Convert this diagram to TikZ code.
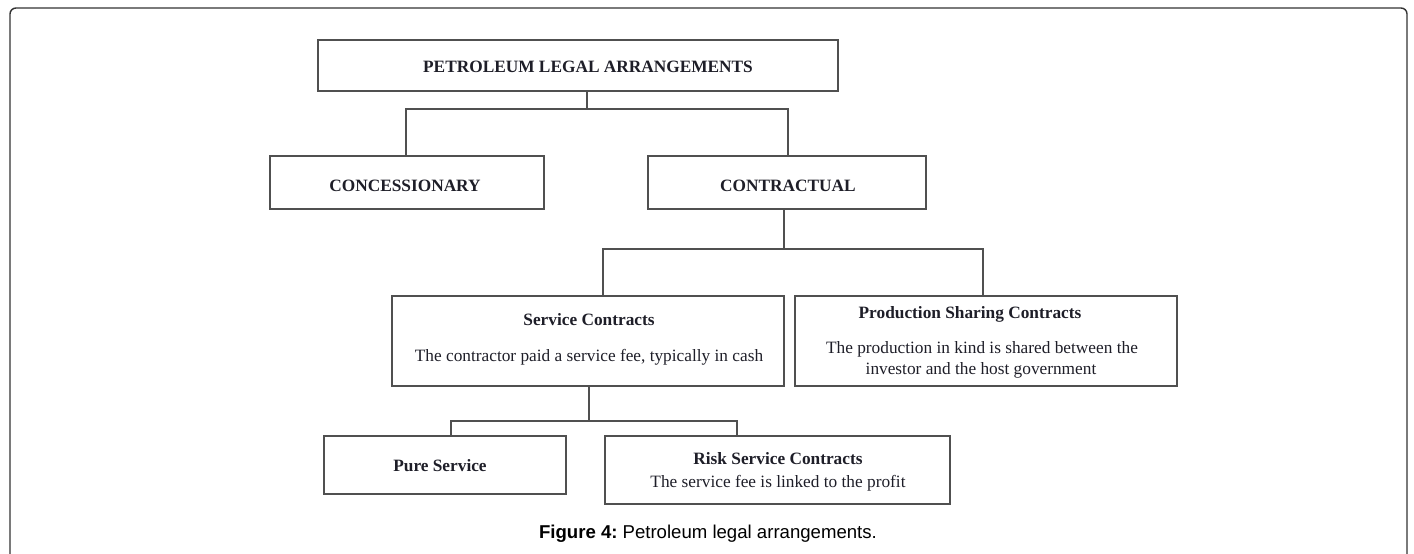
\documentclass[tikz,border=0pt]{standalone}
\usepackage{fontspec}
\setmainfont{Liberation Serif}
\newfontfamily\capfont{Liberation Sans}
\definecolor{linegray}{RGB}{80,80,80}
\definecolor{framegray}{RGB}{51,51,51}
\definecolor{txt}{RGB}{30,30,40}
\tikzset{
  box/.style={draw=linegray, line width=1.5pt, inner sep=0pt, outer sep=0pt, rectangle, anchor=north west},
  conn/.style={draw=linegray, line width=1.5pt},
  lbl/.style={anchor=base, inner sep=0pt, text=txt, font=\fontsize{17.3}{21}\selectfont},
  blbl/.style={lbl, font=\fontsize{17.3}{21}\selectfont\bfseries},
}
\begin{document}
\begin{tikzpicture}[x=1pt,y=-1pt]
\useasboundingbox (0,0) rectangle (1414,554);
% outer frame
\draw[framegray, line width=1.4pt, rounded corners=6pt] (10,560) -- (10,8) -- (1407,8) -- (1407,560);
% boxes
\node[box, minimum width=520, minimum height=51] (top) at (318,40) {};
\node[box, minimum width=274, minimum height=53] (conc) at (270,156) {};
\node[box, minimum width=278, minimum height=53] (contr) at (648,156) {};
\node[box, minimum width=392, minimum height=90] (serv) at (392,296) {};
\node[box, minimum width=382, minimum height=90] (prod) at (795,296) {};
\node[box, minimum width=242, minimum height=58] (pure) at (324,436) {};
\node[box, minimum width=345, minimum height=68] (risk) at (605,436) {};
% texts
\node[blbl] (ttop) at (588,72) {PETROLEUM LEGAL ARRANGEMENTS};
\node[blbl] (tconc) at (405,191) {CONCESSIONARY};
\node[blbl] (tcontr) at (788,191) {CONTRACTUAL};
\node[blbl] (tserv1) at (589,325) {Service Contracts};
\node[lbl] (tserv2) at (589,361) {The contractor paid a service fee, typically in cash};
\node[blbl] (tprod1) at (970,318) {Production Sharing Contracts};
\node[lbl] (tprod2) at (982,353) {The production in kind is shared between the};
\node[lbl] (tprod3) at (981,374) {investor and the host government};
\node[blbl] (tpure) at (440,471) {Pure Service};
\node[blbl] (trisk1) at (778,464) {Risk Service Contracts};
\node[lbl] (trisk2) at (778,487) {The service fee is linked to the profit};
% caption
\node[anchor=base, inner sep=0pt, text=black, font=\capfont\fontsize{18.6}{22}\selectfont] (cap) at (708,538) {\textbf{Figure 4:}\hspace{5pt}Petroleum legal arrangements.};
% connectors
\coordinate (b1) at (587,109);
\coordinate (c1) at (406,156);
\coordinate (c2) at (788,156);
\draw[conn] (top.south -| b1) -- (b1);
\draw[conn] (c1) |- (b1) -| (c2);
\coordinate (b2) at (784,249);
\coordinate (c3) at (603,296);
\coordinate (c4) at (983,296);
\draw[conn] (contr.south -| b2) -- (b2);
\draw[conn] (c3) |- (b2) -| (c4);
\coordinate (b3) at (589,421);
\coordinate (c5) at (451,436);
\coordinate (c6) at (737,436);
\draw[conn] (serv.south -| b3) -- (b3);
\draw[conn] (c5) |- (b3) -| (c6);
\end{tikzpicture}
\end{document}
